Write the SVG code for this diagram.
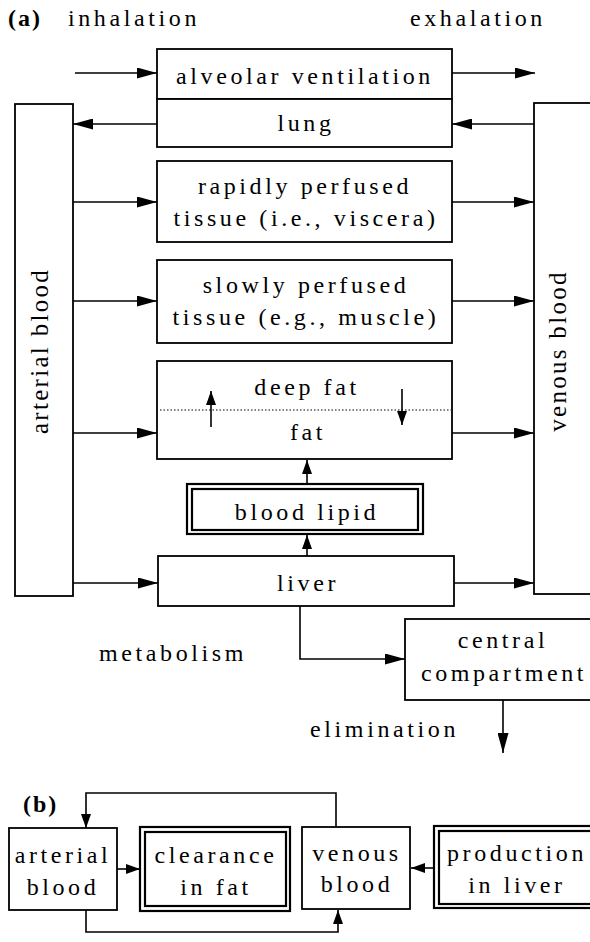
<svg xmlns="http://www.w3.org/2000/svg" width="590" height="942" viewBox="0 0 590 942" font-family="'Liberation Serif', 'Times New Roman', serif">
<style>
text{font-family:'Liberation Serif','Times New Roman',serif;font-size:24px;letter-spacing:3.6px;fill:#000}
.c{text-anchor:middle}
.e{text-anchor:end}
.b{font-weight:bold;letter-spacing:2px}
.rot{font-size:25px;letter-spacing:2.3px;text-anchor:middle}
.box{fill:#fff;stroke:#000;stroke-width:1.8}
.dbl{fill:none;stroke:#000;stroke-width:2.2}
.ln{fill:none;stroke:#000;stroke-width:1.6}
.dot{fill:none;stroke:#000;stroke-width:1.2;stroke-dasharray:1.5 2}
</style>
<defs>
<marker id="ah" viewBox="0 0 20 11" refX="20" refY="5.5" markerWidth="20" markerHeight="11" orient="auto" markerUnits="userSpaceOnUse"><path d="M0,0 L20,5.5 L0,11 z" fill="#000"/></marker>
<marker id="as" viewBox="0 0 14 10" refX="14" refY="5" markerWidth="14" markerHeight="10" orient="auto" markerUnits="userSpaceOnUse"><path d="M0,0 L14,5 L0,10 z" fill="#000"/></marker>
</defs>

<text class="b" x="8" y="26">(a)</text>
<text x="68" y="26">inhalation</text>
<text x="410" y="26">exhalation</text>

<g id="alveolar"><rect class="box" x="157" y="49" width="295" height="50"/><text class="c" x="305" y="84">alveolar ventilation</text></g>
<g id="lung"><rect class="box" x="157" y="99" width="295" height="48"/><text class="c" x="306" y="131">lung</text></g>
<g id="arterial"><rect class="box" x="15" y="104" width="58" height="492"/><text class="rot" transform="translate(48,351) rotate(-90)">arterial blood</text></g>
<g id="venous"><rect class="box" x="534" y="103" width="70" height="491"/><text class="rot" transform="translate(566,351) rotate(-90)">venous blood</text></g>
<g id="rapid"><rect class="box" x="157" y="161" width="295" height="81"/><text class="c" x="305" y="194">rapidly perfused</text><text class="c" x="306" y="226">tissue (i.e., viscera)</text></g>
<g id="slow"><rect class="box" x="157" y="260" width="295" height="83"/><text class="c" x="306" y="293">slowly perfused</text><text class="c" x="306" y="325">tissue (e.g., muscle)</text></g>
<g id="fat"><rect class="box" x="157" y="361" width="295" height="98"/><line class="dot" x1="160" y1="410" x2="451" y2="410"/><text class="c" x="307" y="395">deep fat</text><text class="c" x="308" y="440">fat</text></g>
<g id="bloodlipid"><rect class="dbl" x="187" y="484" width="236" height="50"/><rect class="dbl" x="192" y="489" width="226" height="41"/><text class="c" x="307" y="520">blood lipid</text></g>
<g id="liver"><rect class="box" x="158" y="556" width="296" height="50"/><text class="c" x="308" y="591">liver</text></g>
<g id="central"><rect class="box" x="405" y="619" width="200" height="81"/><text class="c" x="503" y="648">central</text><text class="c" x="504" y="681">compartment</text></g>
<text x="99" y="661">metabolism</text>
<text class="e" x="459" y="737">elimination</text>

<g id="connectors-a">
<line class="ln" x1="75" y1="73" x2="157" y2="73" marker-end="url(#ah)"/>
<line class="ln" x1="452" y1="73" x2="535" y2="73" marker-end="url(#ah)"/>
<line class="ln" x1="157" y1="124" x2="73" y2="124" marker-end="url(#ah)"/>
<line class="ln" x1="534" y1="124" x2="452" y2="124" marker-end="url(#ah)"/>
<line class="ln" x1="73" y1="202" x2="157" y2="202" marker-end="url(#ah)"/>
<line class="ln" x1="452" y1="202" x2="534" y2="202" marker-end="url(#ah)"/>
<line class="ln" x1="73" y1="301" x2="157" y2="301" marker-end="url(#ah)"/>
<line class="ln" x1="452" y1="301" x2="534" y2="301" marker-end="url(#ah)"/>
<line class="ln" x1="73" y1="433" x2="157" y2="433" marker-end="url(#ah)"/>
<line class="ln" x1="452" y1="433" x2="534" y2="433" marker-end="url(#ah)"/>
<line class="ln" x1="73" y1="583" x2="158" y2="583" marker-end="url(#ah)"/>
<line class="ln" x1="454" y1="583" x2="534" y2="583" marker-end="url(#ah)"/>
<line class="ln" x1="211" y1="427" x2="211" y2="391" marker-end="url(#as)"/>
<line class="ln" x1="402" y1="389" x2="402" y2="425" marker-end="url(#as)"/>
<line class="ln" x1="307" y1="484" x2="307" y2="460" marker-end="url(#as)"/>
<line class="ln" x1="307" y1="556" x2="307" y2="535" marker-end="url(#as)"/>
<path class="ln" d="M300,606 V659 H405" marker-end="url(#ah)"/>
<line class="ln" x1="503" y1="700" x2="503" y2="753" marker-end="url(#ah)"/>
</g>

<text class="b" x="23" y="812">(b)</text>
<g id="b-arterial"><rect class="box" x="9" y="828" width="108" height="82"/><text class="c" x="63" y="863">arterial</text><text class="c" x="63" y="895">blood</text></g>
<g id="b-clearance"><rect class="dbl" x="140" y="827" width="150" height="84"/><rect class="dbl" x="145" y="832" width="141" height="74"/><text class="c" x="216" y="863">clearance</text><text class="c" x="216" y="895">in fat</text></g>
<g id="b-venous"><rect class="box" x="302" y="827" width="108" height="82"/><text class="c" x="357" y="861">venous</text><text class="c" x="357" y="892">blood</text></g>
<g id="b-production"><rect class="dbl" x="434" y="826" width="200" height="82"/><rect class="dbl" x="439" y="831" width="190" height="73"/><text class="c" x="517" y="861">production</text><text class="c" x="517" y="893">in liver</text></g>

<g id="connectors-b">
<path class="ln" d="M336,827 V793 H86 V828" marker-end="url(#as)"/>
<line class="ln" x1="117" y1="869" x2="140" y2="869" marker-end="url(#as)"/>
<line class="ln" x1="434" y1="868" x2="411" y2="868" marker-end="url(#as)"/>
<path class="ln" d="M86,910 V932 H338 V910" marker-end="url(#as)"/>
</g>
</svg>
